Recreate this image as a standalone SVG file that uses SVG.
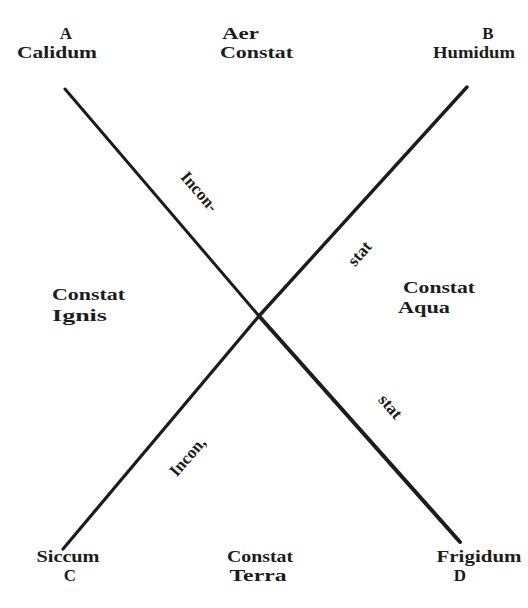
<svg xmlns="http://www.w3.org/2000/svg" width="528" height="608" viewBox="0 0 528 608">
  <style>
    .t { font-family: "Liberation Serif", "DejaVu Serif", serif; font-weight: bold; font-size: 17px; fill: #1c1c1c; }
    .m { text-anchor: middle; }
    .r { font-size: 17px; text-anchor: middle; }
    .ln { stroke: #1c1c1c; stroke-linecap: round; fill: none; }
  </style>
  <rect width="528" height="608" fill="#ffffff"/>
  <g id="connectors">
    <path class="ln" stroke-width="3" d="M65 89 L259 316"/>
    <path class="ln" stroke-width="4" d="M259 316 L460 542"/>
    <path class="ln" stroke-width="3.2" d="M63 549 L259 316"/>
    <path class="ln" stroke-width="3.4" d="M259 316 L467 87"/>
  </g>
  <g id="node-a">
    <text class="t m" x="66" y="39">A</text>
    <text class="t m" x="57" y="58" textLength="80" lengthAdjust="spacingAndGlyphs">Calidum</text>
  </g>
  <g id="node-aer">
    <text class="t" x="222" y="39" textLength="37" lengthAdjust="spacingAndGlyphs">Aer</text>
    <text class="t" x="220" y="58" textLength="73" lengthAdjust="spacingAndGlyphs">Constat</text>
  </g>
  <g id="node-b">
    <text class="t m" x="488" y="39">B</text>
    <text class="t m" x="474" y="58" textLength="82" lengthAdjust="spacingAndGlyphs">Humidum</text>
  </g>
  <g id="node-ignis">
    <text class="t" x="52" y="300" textLength="73" lengthAdjust="spacingAndGlyphs">Constat</text>
    <text class="t" x="52" y="321" textLength="55" lengthAdjust="spacingAndGlyphs">Ignis</text>
  </g>
  <g id="node-aqua">
    <text class="t" x="403" y="293" textLength="72" lengthAdjust="spacingAndGlyphs">Constat</text>
    <text class="t" x="398" y="313" textLength="52" lengthAdjust="spacingAndGlyphs">Aqua</text>
  </g>
  <g id="node-c">
    <text class="t m" x="68" y="562" textLength="63" lengthAdjust="spacingAndGlyphs">Siccum</text>
    <text class="t m" x="70" y="581">C</text>
  </g>
  <g id="node-terra">
    <text class="t m" x="260" y="562" textLength="66" lengthAdjust="spacingAndGlyphs">Constat</text>
    <text class="t m" x="258" y="581" textLength="57" lengthAdjust="spacingAndGlyphs">Terra</text>
  </g>
  <g id="node-d">
    <text class="t m" x="479" y="562" textLength="85" lengthAdjust="spacingAndGlyphs">Frigidum</text>
    <text class="t m" x="460" y="581">D</text>
  </g>
  <g id="line-labels">
    <text class="t r" transform="translate(199 192) rotate(49)" y="5">Incon-</text>
    <text class="t r" transform="translate(360 254) rotate(-49)" y="5">stat</text>
    <text class="t r" transform="translate(390 407) rotate(49)" y="5">stat</text>
    <text class="t r" transform="translate(188 457) rotate(-49)" y="5">Incon,</text>
  </g>
</svg>
